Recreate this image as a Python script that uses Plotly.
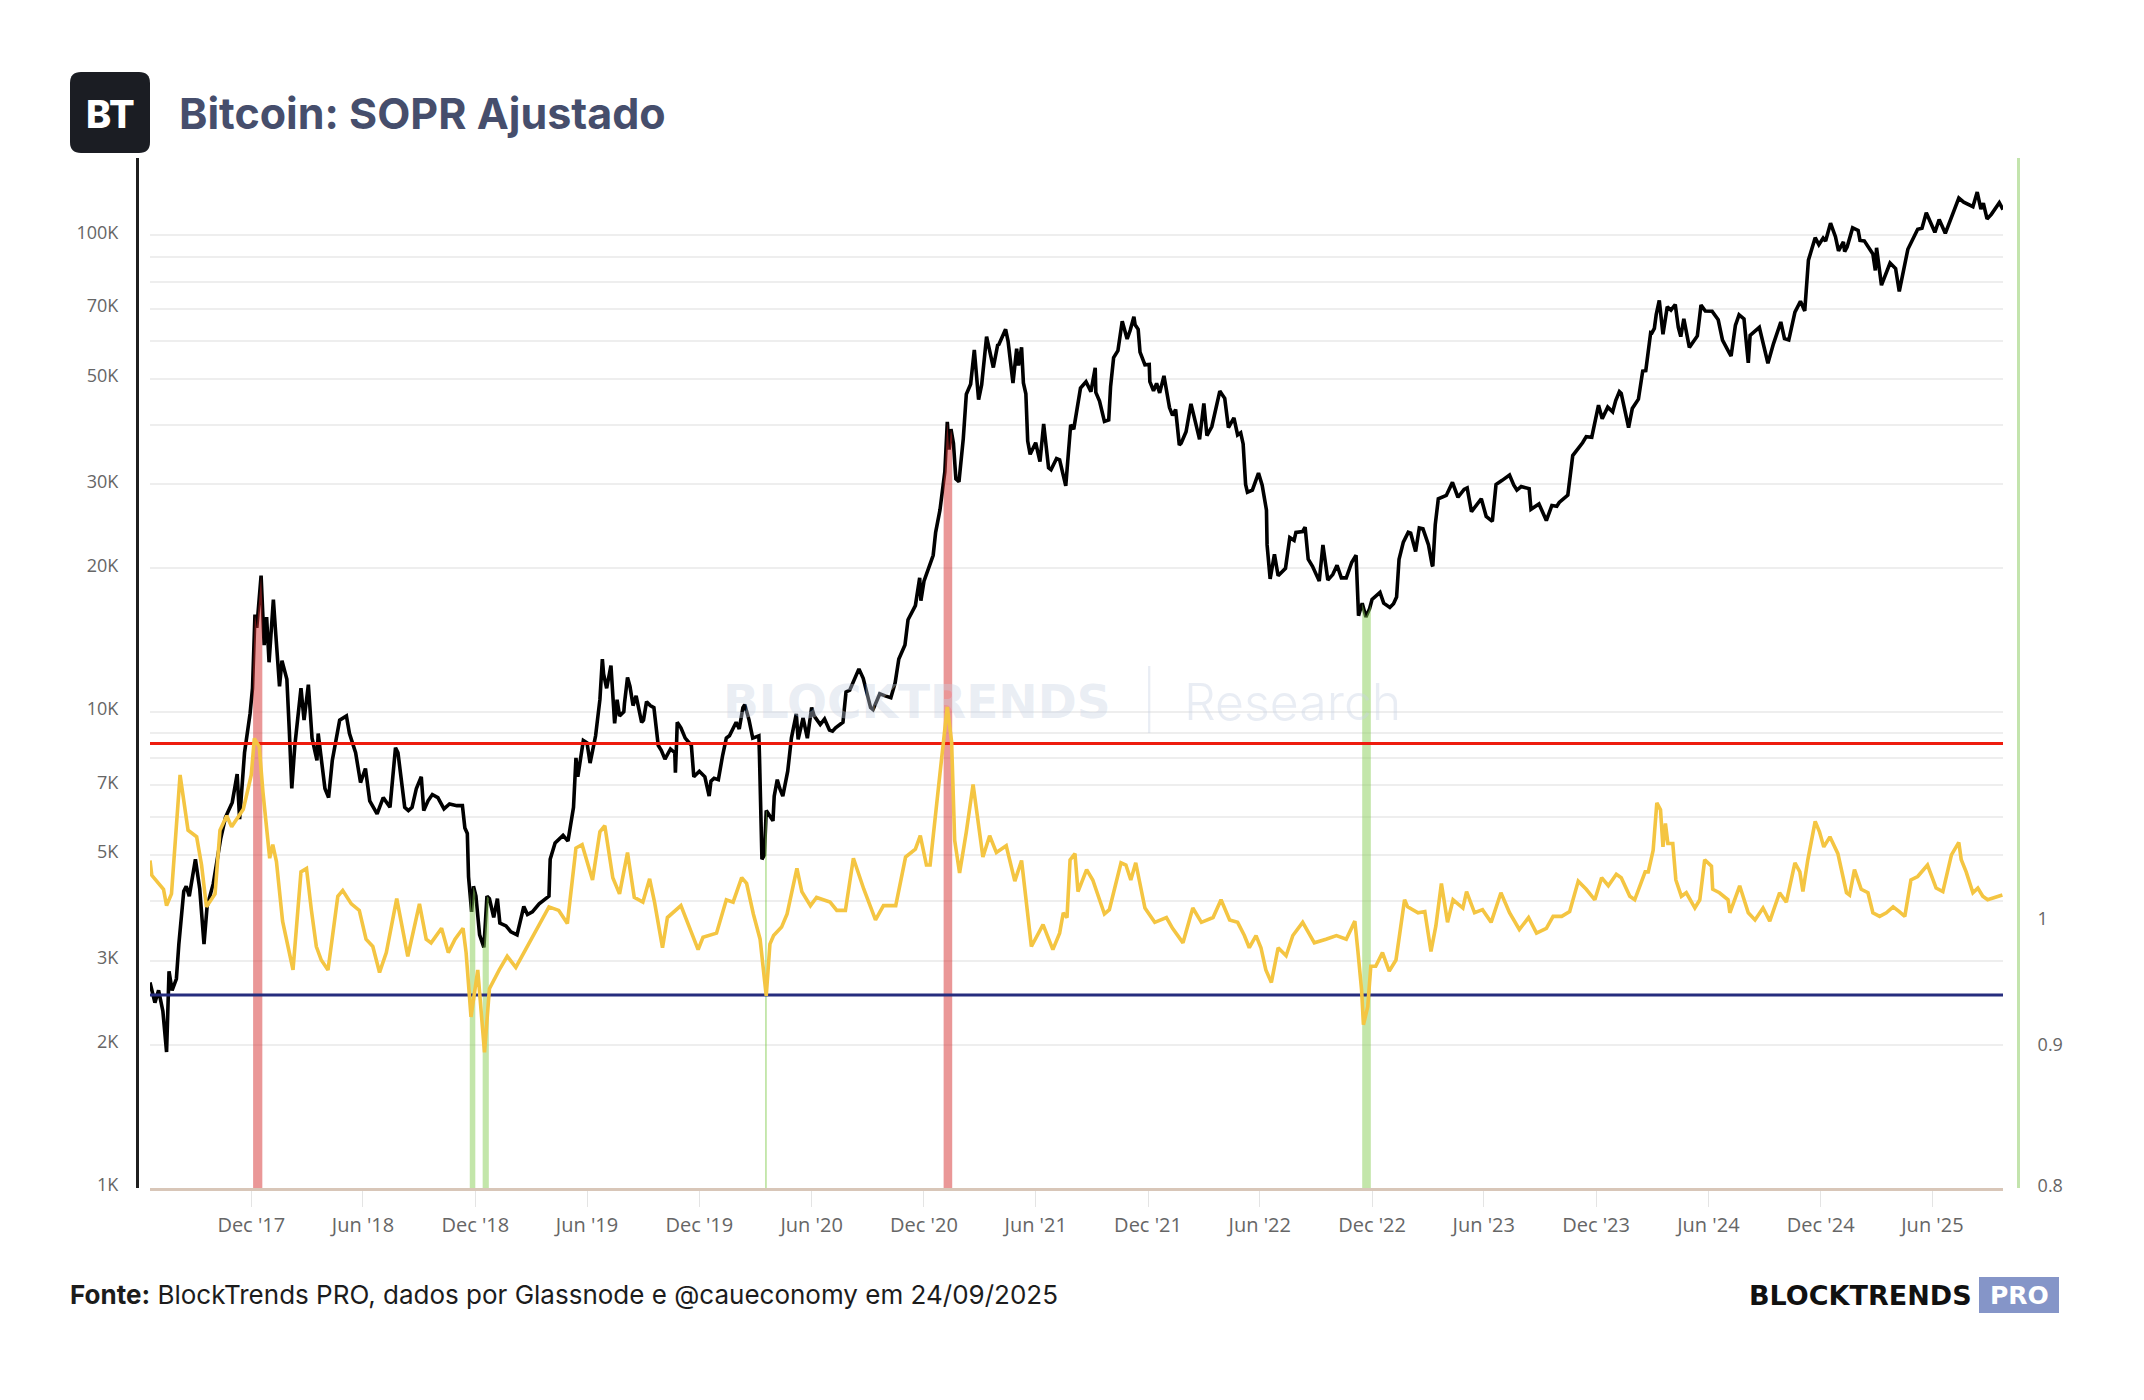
import numpy as np
import pandas as pd
import plotly.graph_objects as go

# ---------------- DATA ----------------
price_dates = [
    "2017-06-19","2017-06-27","2017-07-03","2017-07-10","2017-07-16","2017-07-20","2017-07-25","2017-08-01",
    "2017-08-05","2017-08-13","2017-08-17","2017-08-22","2017-09-01","2017-09-08","2017-09-15","2017-09-20",
    "2017-09-30","2017-10-12","2017-10-20","2017-10-31","2017-11-08","2017-11-12","2017-11-20","2017-11-26",
    "2017-11-29","2017-12-03","2017-12-07","2017-12-10","2017-12-17","2017-12-22","2017-12-26","2017-12-30",
    "2018-01-06","2018-01-10","2018-01-16","2018-01-20","2018-01-28","2018-02-01","2018-02-05","2018-02-10",
    "2018-02-20","2018-02-25","2018-03-04","2018-03-10","2018-03-18","2018-03-20","2018-03-31","2018-04-06",
    "2018-04-12","2018-04-24","2018-05-05","2018-05-10","2018-05-20","2018-05-28","2018-06-05","2018-06-12",
    "2018-06-24","2018-07-04","2018-07-15","2018-07-24","2018-07-28","2018-08-08","2018-08-14","2018-08-20",
    "2018-08-27","2018-09-04","2018-09-08","2018-09-15","2018-09-22","2018-10-01","2018-10-11","2018-10-20",
    "2018-11-01","2018-11-10","2018-11-14","2018-11-18","2018-11-20","2018-11-25","2018-11-28","2018-12-02",
    "2018-12-08","2018-12-15","2018-12-20","2018-12-24","2018-12-31",
    "2019-01-06","2019-01-10","2019-01-20","2019-01-28","2019-02-07","2019-02-18","2019-02-24","2019-03-04",
    "2019-03-15","2019-03-31","2019-04-02","2019-04-10","2019-04-23","2019-05-01","2019-05-10","2019-05-14",
    "2019-05-17","2019-05-26","2019-06-01","2019-06-06","2019-06-15","2019-06-22","2019-06-26","2019-06-28",
    "2019-07-03","2019-07-10","2019-07-16","2019-07-24","2019-08-01","2019-08-06","2019-08-15","2019-08-29",
    "2019-09-06","2019-09-18","2019-09-25","2019-10-06","2019-10-22","2019-10-26","2019-11-08","2019-11-18",
    "2019-11-22","2019-12-01","2019-12-17","2019-12-25",
    "2020-01-01","2020-01-08","2020-01-14","2020-01-30","2020-02-10","2020-02-13","2020-02-20","2020-02-26",
    "2020-03-07","2020-03-08","2020-03-12","2020-03-16","2020-03-19","2020-03-30","2020-04-06","2020-04-15",
    "2020-04-23","2020-04-29","2020-05-07","2020-05-10","2020-05-18","2020-05-25","2020-06-01","2020-06-15",
    "2020-06-30","2020-07-10","2020-07-22","2020-07-27","2020-08-02","2020-08-17","2020-08-27","2020-09-05",
    "2020-09-20","2020-10-08","2020-10-21","2020-10-31","2020-11-05","2020-11-17","2020-11-24","2020-11-26",
    "2020-12-01","2020-12-16","2020-12-20","2020-12-27","2020-12-31",
    "2021-01-08","2021-01-11","2021-01-14","2021-01-22","2021-01-27","2021-02-08","2021-02-15","2021-02-21",
    "2021-02-28","2021-03-13","2021-03-24","2021-04-02","2021-04-13","2021-04-17","2021-04-25","2021-05-01",
    "2021-05-09","2021-05-12","2021-05-19","2021-05-23","2021-06-01","2021-06-08","2021-06-14","2021-06-22",
    "2021-07-05","2021-07-20","2021-07-28","2021-08-13","2021-08-22","2021-09-06","2021-09-07","2021-09-21",
    "2021-10-01","2021-10-06","2021-10-20","2021-10-28","2021-11-08","2021-11-10","2021-11-18","2021-11-26",
    "2021-12-03","2021-12-04","2021-12-15","2021-12-27",
    "2022-01-05","2022-01-10","2022-01-21","2022-01-24","2022-02-09","2022-02-13","2022-02-23","2022-03-02",
    "2022-03-07","2022-03-28","2022-04-05","2022-04-11","2022-04-20","2022-05-01","2022-05-09","2022-05-12",
    "2022-05-30","2022-06-12","2022-06-13","2022-06-18","2022-06-25","2022-07-13","2022-07-20","2022-07-30",
    "2022-08-14","2022-08-19","2022-09-06","2022-09-12","2022-09-20","2022-10-05","2022-10-20","2022-10-29",
    "2022-11-05","2022-11-09","2022-11-21","2022-12-01","2022-12-14","2022-12-30",
    "2023-01-10","2023-01-14","2023-01-21","2023-02-02","2023-02-10","2023-02-16","2023-03-09","2023-03-10",
    "2023-03-14","2023-03-19","2023-04-11","2023-04-20","2023-04-30","2023-05-12","2023-05-28","2023-06-15",
    "2023-06-21","2023-07-13","2023-07-25","2023-08-14","2023-08-17","2023-09-11","2023-09-28","2023-10-02",
    "2023-10-16","2023-10-24","2023-11-09","2023-11-24","2023-12-05","2023-12-11","2023-12-20",
    "2024-01-02","2024-01-11","2024-01-23","2024-02-08","2024-02-15","2024-02-28","2024-03-05","2024-03-13",
    "2024-03-19","2024-03-26","2024-04-08","2024-04-17","2024-04-22","2024-05-01","2024-05-20","2024-06-07",
    "2024-06-24","2024-07-05","2024-07-08","2024-07-21","2024-07-29","2024-08-05","2024-08-23","2024-09-06",
    "2024-09-27","2024-10-10","2024-10-20","2024-10-29","2024-11-05","2024-11-11","2024-11-22","2024-12-05",
    "2024-12-17","2024-12-30",
    "2025-01-07","2025-01-09","2025-01-20","2025-01-22","2025-02-03","2025-02-24","2025-02-28","2025-03-10",
    "2025-03-24","2025-04-08","2025-04-22","2025-05-08","2025-05-22","2025-06-05","2025-06-22","2025-07-14",
    "2025-07-31","2025-08-13","2025-08-19","2025-08-29","2025-09-05","2025-09-18","2025-09-24",
]
price_values = [
    2700,2450,2600,2350,1930,2850,2600,2750,
    3250,4200,4300,4100,4900,4250,3250,3900,
    4350,5400,6000,6450,7400,5950,8200,9300,
    9900,11200,16000,15000,19300,13800,15800,12700,
    17200,14500,11300,12800,11700,9100,6900,8500,
    11200,9600,11400,8800,7900,9000,6900,6600,
    7900,9600,9800,9000,8200,7100,7600,6500,
    6100,6600,6300,8400,8200,6300,6200,6300,
    6900,7300,6200,6500,6700,6600,6250,6400,
    6350,6350,5700,5550,4500,3800,4300,4100,
    3400,3200,4100,4050,3700,
    4050,3600,3550,3450,3400,3900,3750,3800,
    3950,4100,4900,5300,5500,5350,6300,8000,
    7300,8700,8600,7800,8900,10600,12900,12000,
    11200,12500,9450,9800,10400,11800,10300,9500,
    10500,10200,8500,7950,8200,9500,8800,8500,
    7300,7500,6650,7250,
    7200,8100,8800,9500,10200,10350,9600,8800,
    8900,8050,4900,5000,6200,5900,7200,6650,
    7500,8800,9900,8750,9700,8800,10200,9400,
    9150,9250,9500,11000,11100,12300,11300,10200,
    10900,10700,12900,13800,15600,16700,19100,17100,
    18800,21300,23800,26500,29000,
    40600,35500,39200,30800,30400,46400,48700,57500,
    45200,61300,52800,59000,63500,60000,49000,57800,
    58200,49000,37000,34700,36700,33500,40200,32500,
    34000,29800,40000,47800,49300,52700,46800,40700,
    48100,55400,66000,60600,67500,64900,56900,53500,
    53600,49300,48900,50700,
    43500,41900,36300,36600,44300,42200,37300,44400,
    38000,47100,45500,39500,41400,38500,30000,28900,
    31700,26500,22400,19000,21400,20000,23200,23800,
    24400,20900,18800,22400,18900,20300,19100,20600,
    21300,15900,15800,17200,17800,16550,
    17400,20900,22700,23700,21700,24300,20300,20200,
    24700,28000,30300,28200,29300,26300,28000,25100,
    30000,31400,29200,29400,26600,25200,27000,27500,
    28500,34500,36700,37700,44000,41200,43600,
    45000,46600,39500,45300,51900,62500,63800,73000,
    62000,70800,71600,61300,66800,58200,71400,69300,
    60300,56700,55800,68100,66800,54000,64100,53900,
    65800,60300,69000,72700,69400,88700,98900,98700,
    106100,92800,
    96900,92500,102000,103700,97600,91400,84400,78600,
    87500,76300,93500,103000,111600,101500,101000,119800,
    115700,123300,113500,108300,110700,117100,113300,
]

# additional price readings (merged with the main series by date)
price_dates_extra = [
    "2019-07-20","2019-07-31","2019-08-10","2019-08-20","2019-09-01","2019-09-12","2019-09-30","2019-10-15",
    "2019-10-23","2019-10-25","2019-11-01","2019-12-10","2019-12-20",
    "2020-01-19","2020-02-04","2020-04-01","2020-04-10","2020-06-05","2020-06-22","2020-07-05","2020-08-10",
    "2020-08-24","2020-09-09","2020-09-30","2020-10-15",
    "2021-01-04","2021-01-18","2021-02-03","2021-03-05","2021-03-31","2021-05-04","2021-05-16","2021-06-26",
    "2021-07-10","2021-08-02","2021-08-30","2021-09-13","2021-09-28","2021-10-13","2021-11-02","2021-11-15",
    "2021-12-10","2021-12-20",
    "2022-01-15","2022-02-01","2022-03-15","2022-04-01","2022-04-26","2022-05-05","2022-05-20","2022-06-05",
    "2022-07-01","2022-07-27","2022-08-10","2022-08-26","2022-09-28","2022-10-12","2022-11-15","2022-11-27",
    "2022-12-20",
    "2023-01-05","2023-01-29","2023-02-22","2023-03-03","2023-04-01","2023-05-05","2023-06-05","2023-07-01",
    "2023-07-20","2023-08-01","2023-08-30","2023-09-20","2023-11-15","2023-12-28",
    "2024-01-08","2024-01-29","2024-02-20","2024-03-01","2024-03-08","2024-04-01","2024-04-13","2024-05-14",
    "2024-05-27","2024-06-17","2024-07-15","2024-08-08","2024-09-15","2024-10-03","2024-11-13","2024-11-28",
    "2024-12-09","2024-12-25",
    "2025-01-13","2025-01-31","2025-02-10","2025-03-02","2025-03-16","2025-04-02","2025-05-15","2025-06-12",
    "2025-06-30","2025-07-22","2025-08-06","2025-08-23",
]
price_values_extra = [
    10600,10000,11300,10800,9600,10300,8300,8350,
    7450,8650,9250,7300,7150,
    8900,9200,6650,6900,9800,9650,9100,11700,
    11750,10100,10780,11500,
    31900,36600,37400,48600,58800,53300,46500,32200,
    33800,39200,47000,44900,41000,57300,63200,63500,
    47200,46700,
    43100,38700,39700,46300,38100,36500,29200,29900,
    19300,22900,23900,20200,19400,19100,16900,16450,
    16900,
    16850,23800,24200,22400,28450,29500,25700,30600,
    29900,29700,27300,27100,37800,42600,
    47000,43300,52000,62400,68200,69700,64100,61500,
    69400,66500,64700,61700,59200,60700,90400,95600,
    97300,99400,
    94500,102400,97400,94200,82600,85200,103500,108000,
    107200,117400,114900,116900,
]

sopr_dates = [
    "2017-06-19","2017-06-22","2017-07-11","2017-07-16","2017-07-24","2017-08-07","2017-08-20","2017-09-03",
    "2017-09-11","2017-09-19","2017-10-03","2017-10-11","2017-10-22","2017-10-30","2017-11-18","2017-12-01",
    "2017-12-06","2017-12-14","2017-12-20","2017-12-31",
    "2018-01-05","2018-01-11","2018-01-21","2018-02-07","2018-02-20","2018-03-01","2018-03-09","2018-03-17",
    "2018-03-25","2018-04-05","2018-04-21","2018-04-29","2018-05-13","2018-05-26","2018-06-06","2018-06-17",
    "2018-06-28","2018-07-09","2018-07-26","2018-08-05","2018-08-13","2018-09-01","2018-09-12","2018-09-20",
    "2018-10-07","2018-10-18","2018-10-29","2018-11-11","2018-11-16","2018-11-24","2018-12-05","2018-12-16",
    "2018-12-24",
    "2019-01-09","2019-01-22","2019-02-05","2019-02-27","2019-03-31","2019-04-16","2019-04-30","2019-05-14",
    "2019-05-24","2019-06-10","2019-06-22","2019-06-30","2019-07-13","2019-07-24","2019-08-06","2019-08-17",
    "2019-08-31","2019-09-11","2019-09-19","2019-10-02","2019-10-10","2019-11-01","2019-11-15","2019-11-29",
    "2019-12-07","2019-12-29",
    "2020-01-14","2020-01-25","2020-02-08","2020-02-16","2020-02-27","2020-03-09","2020-03-19","2020-03-25",
    "2020-03-31","2020-04-13","2020-04-22","2020-05-08","2020-05-16","2020-05-30","2020-06-09","2020-07-01",
    "2020-07-12","2020-07-26","2020-08-08","2020-08-25","2020-09-13","2020-09-26","2020-10-16","2020-11-01",
    "2020-11-17","2020-11-25","2020-12-05","2020-12-11","2020-12-27",
    "2021-01-08","2021-01-15","2021-01-20","2021-01-28","2021-02-08","2021-02-19","2021-03-07","2021-03-18",
    "2021-03-29","2021-04-14","2021-04-28","2021-05-09","2021-05-25","2021-06-13","2021-06-29","2021-07-10",
    "2021-07-16","2021-07-22","2021-07-27","2021-08-04","2021-08-09","2021-08-23","2021-09-02","2021-09-21",
    "2021-09-29","2021-10-18","2021-10-26","2021-11-03","2021-11-11","2021-11-26","2021-12-12","2021-12-31",
    "2022-01-10","2022-01-27","2022-02-12","2022-02-26","2022-03-17","2022-03-30","2022-04-13","2022-04-26",
    "2022-05-07","2022-05-15","2022-05-26","2022-06-03","2022-06-11","2022-06-20","2022-07-01","2022-07-14",
    "2022-07-25","2022-08-10","2022-08-29","2022-09-17","2022-10-04","2022-10-20","2022-11-03","2022-11-08",
    "2022-11-14","2022-11-17","2022-11-24","2022-11-29","2022-12-07","2022-12-18","2022-12-29",
    "2023-01-09","2023-01-23","2023-01-28","2023-02-14","2023-02-25","2023-03-07","2023-03-15","2023-03-24",
    "2023-04-03","2023-04-12","2023-04-28","2023-05-04","2023-05-17","2023-05-30","2023-06-13","2023-06-29",
    "2023-07-13","2023-07-29","2023-08-13","2023-08-26","2023-09-11","2023-09-22","2023-10-06","2023-10-19",
    "2023-11-02","2023-11-15","2023-11-29","2023-12-10","2023-12-21",
    "2024-01-03","2024-01-11","2024-01-25","2024-02-02","2024-02-19","2024-02-24","2024-03-03","2024-03-09",
    "2024-03-15","2024-03-19","2024-03-23","2024-03-27","2024-04-04","2024-04-09","2024-04-18","2024-04-26",
    "2024-05-10","2024-05-18","2024-05-26","2024-06-06","2024-06-08","2024-06-19","2024-07-03","2024-07-06",
    "2024-07-22","2024-08-05","2024-08-16","2024-08-29","2024-09-09","2024-09-25","2024-10-06","2024-10-20",
    "2024-10-28","2024-11-02","2024-11-10","2024-11-22","2024-11-29","2024-12-06","2024-12-16","2024-12-29",
    "2025-01-12","2025-01-17","2025-01-25","2025-02-05","2025-02-16","2025-02-24","2025-03-07","2025-03-18",
    "2025-03-29","2025-04-08","2025-04-17","2025-04-27","2025-05-08","2025-05-24","2025-06-07","2025-06-18",
    "2025-07-02","2025-07-14","2025-07-18","2025-07-26","2025-08-06","2025-08-14","2025-08-22","2025-08-30",
    "2025-09-10","2025-09-23",
]
sopr_values = [
    1.052,1.039,1.027,1.013,1.023,1.130,1.079,1.073,
    1.048,1.012,1.023,1.079,1.092,1.082,1.098,1.130,
    1.165,1.157,1.114,1.054,
    1.066,1.051,1.000,0.960,1.042,1.045,1.009,0.979,
    0.968,0.960,1.021,1.026,1.0145,1.009,0.985,0.979,
    0.958,0.974,1.019,0.991,0.971,1.0145,0.985,0.982,
    0.994,0.974,0.985,0.994,0.974,0.923,0.960,0.896,
    0.945,
    0.960,0.971,0.962,0.982,1.012,1.009,0.998,1.063,
    1.066,1.035,1.0775,1.083,1.037,1.023,1.059,1.020,
    1.016,1.036,1.016,0.978,1.003,1.013,0.995,0.9765,
    0.9866,0.990,
    1.018,1.016,1.037,1.032,1.006,0.985,0.9395,0.981,
    0.988,0.995,1.006,1.045,1.025,1.013,1.020,1.016,
    1.009,1.009,1.054,1.027,1.001,1.013,1.013,1.055,
    1.062,1.074,1.048,1.048,1.131,
    1.196,1.162,1.070,1.041,1.0775,1.121,1.055,1.074,
    1.059,1.065,1.034,1.052,0.979,0.997,0.9765,0.990,
    1.007,1.003,1.0526,1.058,1.025,1.044,1.035,1.006,
    1.0096,1.050,1.048,1.035,1.050,1.011,0.999,1.003,
    0.994,0.982,1.011,0.999,1.003,1.018,1.001,0.999,
    0.988,0.978,0.988,0.978,0.960,0.950,0.978,0.9715,
    0.988,0.999,0.982,0.985,0.988,0.985,1.000,0.975,
    0.944,0.917,0.931,0.963,0.963,0.974,0.959,
    0.968,1.018,1.012,1.007,1.008,0.975,0.996,1.032,
    0.999,1.018,1.011,1.025,1.007,1.0096,0.999,1.024,
    1.007,0.993,1.003,0.990,0.994,1.004,1.004,1.008,
    1.034,1.027,1.018,1.037,1.030,
    1.040,1.037,1.021,1.018,1.042,1.042,1.061,1.104,
    1.0975,1.064,1.085,1.067,1.067,1.035,1.021,1.024,
    1.011,1.018,1.0526,1.047,1.027,1.024,1.018,1.007,
    1.030,1.007,1.001,1.011,1.000,1.024,1.016,1.050,
    1.042,1.025,1.0526,1.087,1.0775,1.064,1.073,1.058,
    1.024,1.022,1.044,1.027,1.024,1.007,1.004,1.007,
    1.012,1.008,1.004,1.035,1.038,1.048,1.028,1.025,
    1.057,1.068,1.0526,1.042,1.024,1.028,1.021,1.018,
    1.020,1.022,
]

upper_threshold = 1.16
lower_threshold = 0.94

red_zones = [("2017-12-04", "2017-12-19"), ("2021-01-02", "2021-01-16")]
green_zones = [("2018-11-22", "2018-12-01"), ("2018-12-13", "2018-12-23"),
               ("2020-03-17", "2020-03-20"), ("2022-11-15", "2022-11-29")]

x_tick_dates = ["2017-12-01","2018-06-01","2018-12-01","2019-06-01","2019-12-01","2020-06-01",
                "2020-12-01","2021-06-01","2021-12-01","2022-06-01","2022-12-01","2023-06-01",
                "2023-12-01","2024-06-01","2024-12-01","2025-06-01"]
x_tick_labels = ["Dec '17","Jun '18","Dec '18","Jun '19","Dec '19","Jun '20","Dec '20","Jun '21",
                 "Dec '21","Jun '22","Dec '22","Jun '23","Dec '23","Jun '24","Dec '24","Jun '25"]

price_tick_vals = [1000,2000,3000,4000,5000,6000,7000,8000,9000,
                   10000,20000,30000,40000,50000,60000,70000,80000,90000,100000]
price_tick_text = ["1K","2K","3K","","5K","","7K","","",
                   "10K","20K","30K","","50K","","70K","","","100K"]
sopr_tick_vals = [0.8, 0.9, 1]
sopr_tick_text = ["0.8", "0.9", "1"]

x_range = ["2017-06-19", "2025-09-24"]
price_range_log = [3.0, 5.1625]
sopr_range_log = [np.log10(0.8), 0.2771]

# merge the price readings by date
price_df = (pd.DataFrame({"date": pd.to_datetime(price_dates + price_dates_extra),
                          "price": price_values + price_values_extra})
            .sort_values("date").drop_duplicates("date").reset_index(drop=True))

# ---------------- LAYOUT HELPERS (pixels -> paper) ----------------
W, H = 2144, 1400
ML, MR, MT, MB = 137, 126, 158, 212
PW, PH = W - ML - MR, H - MT - MB


def px(x):
    return (x - ML) / PW


def py(y):
    return (H - MB - y) / PH


fig = go.Figure()

# threshold lines
for val, col in [(upper_threshold, "#ee1c0e"), (lower_threshold, "#262d7e")]:
    fig.add_trace(go.Scatter(x=[x_range[0], x_range[1]], y=[val, val], mode="lines",
                             line=dict(color=col, width=3), yaxis="y2", hoverinfo="skip",
                             showlegend=False))

# SOPR
fig.add_trace(go.Scatter(x=sopr_dates, y=sopr_values, mode="lines",
                         line=dict(color="#f4c542", width=3.6), yaxis="y2",
                         name="SOPR Ajustado", showlegend=False))

# Price
fig.add_trace(go.Scatter(x=price_df["date"], y=price_df["price"], mode="lines",
                         line=dict(color="#000000", width=3.6), yaxis="y",
                         name="Preço", showlegend=False))

# zone bands (area under price inside each zone)
p_days = price_df["date"].values.astype("datetime64[D]").astype(np.int64)
p_log = np.log10(price_df["price"].values.astype(float))


def zone_trace(start, end, color):
    s = np.datetime64(start, "D").astype(np.int64)
    e = np.datetime64(end, "D").astype(np.int64)
    inner = [d for d in p_days if s < d < e]
    days = [s] + inner + [e]
    vals = 10 ** np.interp(days, p_days, p_log)
    xs = [str(np.datetime64(int(d), "D")) for d in days]
    return go.Scatter(x=xs, y=vals, mode="lines", line=dict(width=0, color=color),
                      fill="tozeroy", fillcolor=color, yaxis="y", hoverinfo="skip",
                      showlegend=False)


for s, e in red_zones:
    fig.add_trace(zone_trace(s, e, "rgba(214,48,48,0.5)"))
for s, e in green_zones:
    fig.add_trace(zone_trace(s, e, "rgba(135,205,85,0.5)"))

axis_font = dict(family="Open Sans", size=18, color="#666666")

fig.update_layout(
    width=W, height=H,
    margin=dict(l=ML, r=MR, t=MT, b=MB, pad=0),
    paper_bgcolor="white", plot_bgcolor="white",
    showlegend=False,
    xaxis=dict(
        domain=[px(150), px(2003)], anchor="y", type="date", range=x_range,
        showgrid=False, zeroline=False,
        showline=True, linecolor="#d8c6b8", linewidth=3,
        ticks="outside", ticklen=16, tickcolor="#e4e4e4", tickwidth=1,
        tickvals=x_tick_dates, ticktext=x_tick_labels,
        tickfont=dict(family="Open Sans", size=20, color="#666666"),
        ticklabelstandoff=1, automargin=False,
    ),
    yaxis=dict(
        type="log", range=price_range_log, anchor="free", position=0,
        showline=True, linecolor="#1f1f1f", linewidth=3,
        showgrid=True, gridcolor="#eeeeee", gridwidth=1.5, zeroline=False,
        tickvals=price_tick_vals, ticktext=price_tick_text, ticks="",
        tickfont=axis_font, ticklabelstandoff=14, ticklabelshift=-3, automargin=False,
    ),
    yaxis2=dict(
        type="log", range=sopr_range_log, overlaying="y", side="right",
        anchor="free", position=1,
        showline=True, linecolor="#c3e4ad", linewidth=3,
        showgrid=False, zeroline=False,
        tickvals=sopr_tick_vals, ticktext=sopr_tick_text, ticks="",
        tickfont=axis_font, ticklabelstandoff=14, ticklabelshift=-2, automargin=False,
    ),
)

# logo box (rounded)
x0, x1, yt, yb = px(70), px(150), py(72), py(153)
rx, ry = 11 / PW, 11 / PH
path = (f"M {x0+rx},{yt} L {x1-rx},{yt} Q {x1},{yt} {x1},{yt-ry} L {x1},{yb+ry} "
        f"Q {x1},{yb} {x1-rx},{yb} L {x0+rx},{yb} Q {x0},{yb} {x0},{yb+ry} "
        f"L {x0},{yt-ry} Q {x0},{yt} {x0+rx},{yt} Z")
fig.add_shape(type="path", path=path, xref="paper", yref="paper",
              fillcolor="#1b1d23", line=dict(width=0), layer="above")

# PRO box
fig.add_shape(type="rect", xref="paper", yref="paper",
              x0=px(1979), x1=px(2059), y0=py(1313), y1=py(1277),
              fillcolor="#8595c8", line=dict(width=0))

annotations = [
    dict(x=px(110), y=py(114), text="BT", xanchor="center", yanchor="middle",
         font=dict(family="Inter", size=38, color="white", weight=800)),
    dict(x=px(177), y=py(113), text="Bitcoin: SOPR Ajustado", xanchor="left", yanchor="middle",
         font=dict(family="Inter", size=43, color="#464e6c", weight=700)),
    dict(x=px(68), y=py(1294), text="<b>Fonte:</b> BlockTrends PRO, dados por Glassnode e @caueconomy em 24/09/2025",
         xanchor="left", yanchor="middle",
         font=dict(family="Inter", size=26, color="#1c1c1c")),
    dict(x=px(1974), y=py(1295), text="BLOCKTRENDS", xanchor="right", yanchor="middle",
         font=dict(family="DejaVu Sans", size=27, color="#111111", weight=700)),
    dict(x=px(2019), y=py(1295), text="PRO", xanchor="center", yanchor="middle",
         font=dict(family="DejaVu Sans", size=25, color="white", weight=700)),
    dict(x=px(917), y=py(702), text="BLOCKTRENDS", xanchor="center", yanchor="middle",
         font=dict(family="DejaVu Sans", size=47, color="rgba(200,210,228,0.40)", weight=700)),
    dict(x=px(1149), y=py(700), text="|", xanchor="center", yanchor="middle",
         font=dict(family="Inter", size=56, color="rgba(200,210,228,0.40)", weight=200)),
    dict(x=px(1292), y=py(702), text="Research", xanchor="center", yanchor="middle",
         font=dict(family="Inter", size=50, color="rgba(200,210,228,0.40)", weight=300)),
]
for a in annotations:
    a.update(xref="paper", yref="paper", showarrow=False)
fig.update_layout(annotations=annotations)

fig.write_html("out.html")
